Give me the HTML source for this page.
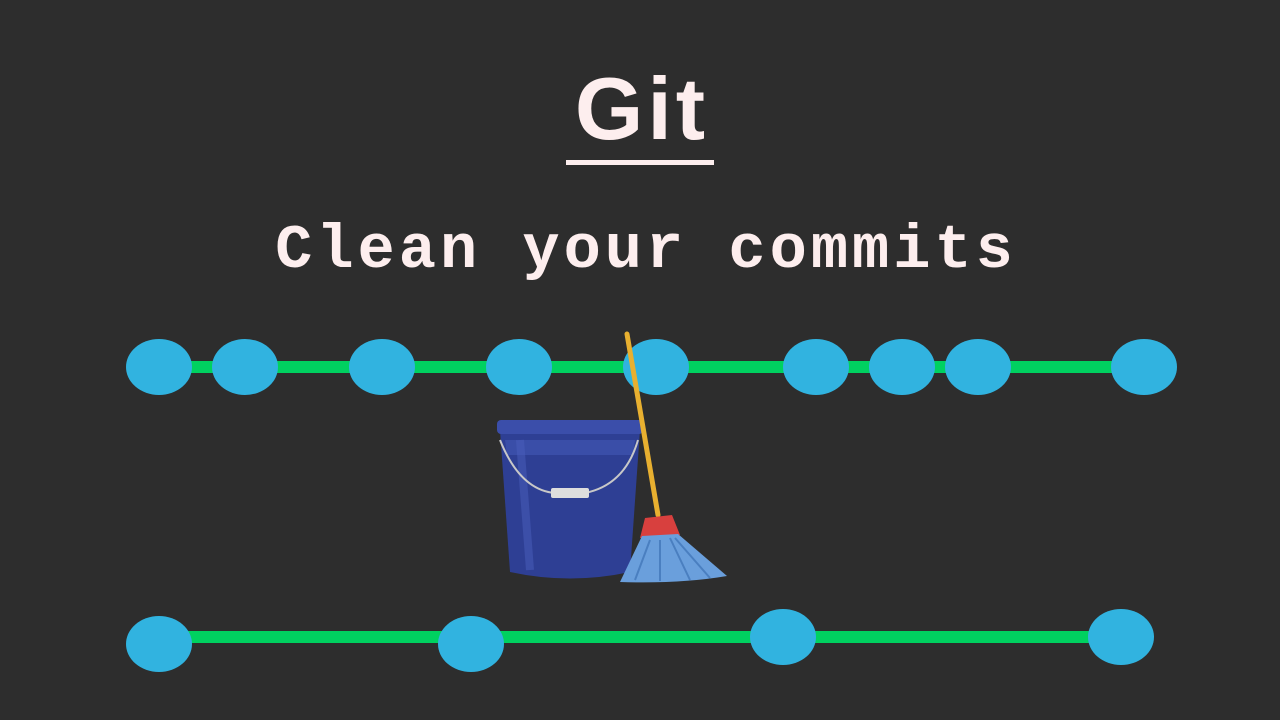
<!DOCTYPE html>
<html><head><meta charset="utf-8"><style>
html,body{margin:0;padding:0;background:#2d2d2d;}
body{width:1280px;height:720px;position:relative;overflow:hidden;}
.t{position:absolute;left:0;width:1280px;text-align:center;color:#fdeeee;}
#git{top:58px;font:bold 88px "Liberation Sans",sans-serif;letter-spacing:4px;padding-left:4px;box-sizing:border-box;}
#ul{position:absolute;left:566px;top:160px;width:148px;height:5px;background:#fdeeee;}
#sub{top:215px;font:bold 62px "Liberation Mono",monospace;letter-spacing:4px;padding-left:12px;box-sizing:border-box;}
</style></head><body>
<div class="t" id="git">Git</div>
<div id="ul"></div>
<div class="t" id="sub">Clean your commits</div>
<svg width="1280" height="720" style="position:absolute;left:0;top:0">
<rect x="159" y="361" width="986" height="12" fill="#00d160"/>
<g fill="#31b3e0">
<ellipse cx="159" cy="367" rx="33" ry="28"/><ellipse cx="245" cy="367" rx="33" ry="28"/>
<ellipse cx="382" cy="367" rx="33" ry="28"/><ellipse cx="519" cy="367" rx="33" ry="28"/>
<ellipse cx="656" cy="367" rx="33" ry="28"/><ellipse cx="816" cy="367" rx="33" ry="28"/>
<ellipse cx="902" cy="367" rx="33" ry="28"/><ellipse cx="978" cy="367" rx="33" ry="28"/>
<ellipse cx="1144" cy="367" rx="33" ry="28"/>
</g>
<rect x="159" y="631" width="962" height="12" fill="#00d160"/>
<g fill="#31b3e0">
<ellipse cx="159" cy="644" rx="33" ry="28"/><ellipse cx="471" cy="644" rx="33" ry="28"/>
<ellipse cx="783" cy="637" rx="33" ry="28"/><ellipse cx="1121" cy="637" rx="33" ry="28"/>
</g>
<path d="M500 430 L640 430 L630 572 Q570 585 510 572 Z" fill="#2e3f94"/>
<path d="M505 440 L635 440 L633 455 L507 455 Z" fill="#3a4ea8"/>
<path d="M520 440 L530 570" stroke="#4a5fbd" stroke-width="8" opacity="0.5"/>
<rect x="497" y="420" width="146" height="14" rx="4" fill="#3b4eaa"/>
<path d="M500 440 Q520 490 555 493 M585 493 Q625 485 638 440" stroke="#c8c8c8" stroke-width="2" fill="none"/>
<rect x="551" y="488" width="38" height="10" rx="2" fill="#ddd"/>
<line x1="627" y1="334" x2="658" y2="515" stroke="#e8b030" stroke-width="5" stroke-linecap="round"/>
<path d="M645 518 L672 515 L680 535 L640 538 Z" fill="#d8403e"/>
<path d="M642 536 L678 534 L727 576 Q680 584 620 582 Z" fill="#6a9fdc"/>
<path d="M650 540 L635 580 M660 540 L660 581 M670 538 L690 580 M675 538 L710 578" stroke="#4a7fc0" stroke-width="2"/>
</svg>
</body></html>
